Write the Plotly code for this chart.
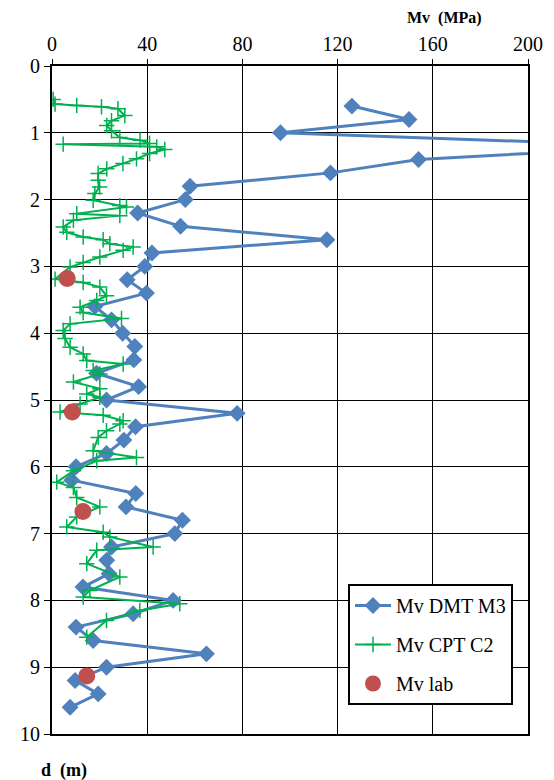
import plotly.graph_objects as go

# DMT M3
dmt_d = [0.6, 0.8, 1.0, 1.2, 1.4, 1.6, 1.8, 2.0, 2.2, 2.4, 2.6, 2.8, 3.0, 3.2, 3.4, 3.6, 3.8, 4.0, 4.2, 4.4,
         4.6, 4.8, 5.0, 5.2, 5.4, 5.6, 5.8, 6.0, 6.2, 6.4, 6.6, 6.8, 7.0, 7.2, 7.4, 7.6, 7.8, 8.0, 8.2, 8.4,
         8.6, 8.8, 9.0, 9.2, 9.4, 9.6]
dmt_mv = [126, 150, 96, 255, 154, 117, 58, 56, 36, 54, 115.5, 42, 39, 31.6, 39.7, 18, 25, 29.7, 34.8, 34.4,
          18.7, 36.4, 22.9, 77.8, 35.1, 30.2, 22.9, 10.1, 8.3, 35.2, 31.1, 54.8, 51.6, 25, 23, 24, 13, 50.9, 34.1, 10.1,
          17.3, 64.9, 22.9, 9.7, 19.4, 7.6]

# CPT C2
cpt_d = [0.50, 0.57, 0.59, 0.61, 0.64, 0.74, 0.82, 0.89, 0.97, 1.07, 1.11, 1.16, 1.17, 1.21, 1.25, 1.31, 1.39,
         1.46, 1.54, 1.61, 1.71, 1.81, 1.91, 2.01, 2.09, 2.11, 2.21, 2.24, 2.31, 2.41, 2.49, 2.56, 2.60, 2.66,
         2.71, 2.76, 2.86, 2.94, 3.01, 3.19, 3.24, 3.31, 3.44, 3.51, 3.61, 3.69, 3.78, 3.86, 3.96, 4.08, 4.21,
         4.31, 4.41, 4.46, 4.56, 4.61, 4.73, 4.83, 4.91, 4.96, 5.06, 5.18, 5.23, 5.31, 5.36, 5.46, 5.56, 5.76,
         5.86, 5.91, 6.06, 6.23, 6.31, 6.46, 6.60, 6.75, 6.90, 6.98, 7.05, 7.20, 7.25, 7.45, 7.65, 7.85, 7.95,
         8.05, 8.15, 8.30, 8.55]
cpt_mv = [0.5, 1.3, 10.4, 20.8, 27.7, 30.6, 25, 23, 25, 28.5, 37, 41, 4.7, 44, 47.4, 41, 35.5,
          29.8, 23, 19.4, 19.4, 20, 18, 17.3, 28.5, 31.3, 10.4, 28.5, 9, 4.7, 6.2, 13.1, 21.5, 24.3,
          34.1, 29.9, 20.1, 13.1, 7.6, 1.3, 13.1, 20.1, 22.9, 18.8, 11.8, 13.1, 29.2, 7.6, 4.7, 5.5, 7.6,
          13.1, 14.6, 29.9, 17.3, 20.1, 9, 20.1, 14.6, 20.1, 11.8, 3.4, 21.5, 29.9, 28.5, 22.9, 19.4, 17.3,
          35.5, 18.8, 9, 2, 9, 10.4, 20.1, 10.4, 6.2, 21.5, 24.3, 42.5, 18.8, 14.6, 28.5, 15.9, 13.1,
          53.7, 36.9, 22.9, 14.6]

# Lab
lab_d = [3.18, 5.18, 6.67, 9.13]
lab_mv = [6.4, 8.5, 13, 14.6]

x_ticks = [0, 40, 80, 120, 160, 200]
y_ticks = list(range(0, 11))

FONT = "Liberation Serif, Times New Roman, serif"

fig = go.Figure()
fig.add_trace(go.Scatter(
    x=dmt_mv, y=dmt_d, mode="lines+markers", name="Mv DMT M3",
    line=dict(color="#4F81BD", width=3),
    marker=dict(symbol="diamond", size=13, color="#4F81BD"),
    legendgroup="a"))
fig.add_trace(go.Scatter(
    x=cpt_mv, y=cpt_d, mode="lines+markers", name="Mv CPT C2",
    line=dict(color="#00B050", width=2),
    marker=dict(symbol="cross-thin", size=11, color="#00B050",
                line=dict(color="#00B050", width=1.5)),
    legendgroup="b"))
fig.add_trace(go.Scatter(
    x=lab_mv, y=lab_d, mode="markers", name="Mv lab",
    marker=dict(symbol="circle", size=17, color="#C0504D"),
    legendgroup="c"))

PW, PH = 476, 668
fig.update_layout(
    width=546, height=772,
    margin=dict(l=44, r=26, t=58, b=46, autoexpand=False),
    paper_bgcolor="white", plot_bgcolor="white",
    font=dict(family=FONT, size=20, color="black"),
    showlegend=True,
    legend=dict(x=(348 - 52) / PW, y=(734 - 584) / PH, xanchor="left", yanchor="top",
                bgcolor="white", bordercolor="black", borderwidth=2,
                font=dict(family=FONT, size=20, color="black"),
                tracegroupgap=10, traceorder="grouped",
                itemwidth=36),
    annotations=[
        dict(text="<b>Mv  (MPa)</b>", x=(484 - 52) / PW, y=1 + (66 - 18) / PH,
             xref="paper", yref="paper", xanchor="right", yanchor="middle",
             showarrow=False, font=dict(family=FONT, size=16)),
        dict(text="<b>d  (m)</b>", x=(39 - 52) / PW, y=-(770 - 734) / PH,
             xref="paper", yref="paper", xanchor="left", yanchor="middle",
             showarrow=False, font=dict(family=FONT, size=18)),
    ],
)

fig.update_xaxes(side="top", range=[0, 200], tickvals=x_ticks, ticks="outside", ticklen=5,
                 tickcolor="black", showgrid=True, gridcolor="black", gridwidth=1,
                 showline=True, linecolor="black", linewidth=2, mirror=True, zeroline=False,
                 tickfont=dict(family=FONT, size=20, color="black"))
fig.update_yaxes(range=[10, 0], tickvals=y_ticks, ticks="outside", ticklen=6,
                 tickcolor="black", showgrid=True, gridcolor="black", gridwidth=1,
                 showline=True, linecolor="black", linewidth=2, mirror=True, zeroline=False,
                 tickfont=dict(family=FONT, size=20, color="black"))

fig.write_html("out.html")
